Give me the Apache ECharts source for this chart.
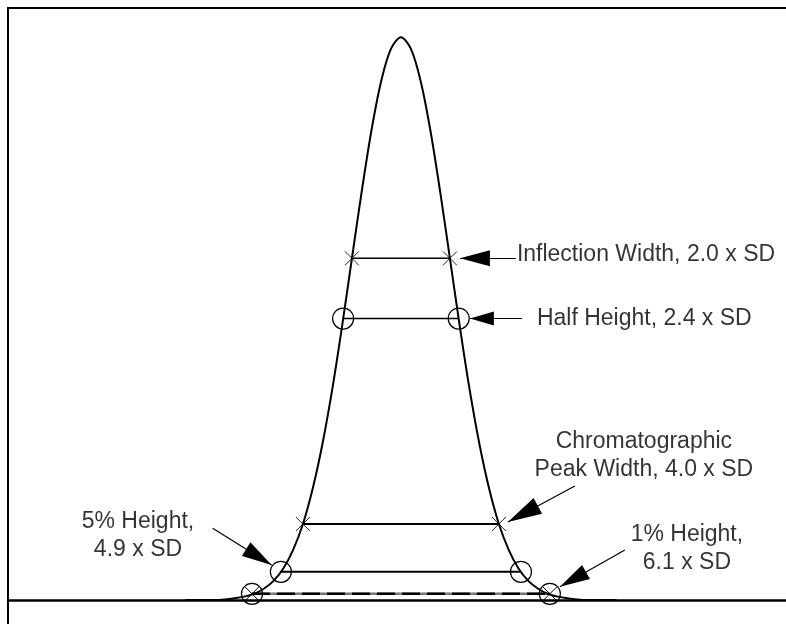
<!DOCTYPE html>
<html><head><meta charset="utf-8">
<script src="https://cdn.jsdelivr.net/npm/echarts@6/dist/echarts.min.js"></script>
<style>html,body{margin:0;padding:0;background:#fff}#c{width:786px;height:624px}</style>
</head><body><div id="c"></div>
<script>
// Peak profile (x in SD units, y as fraction of peak height)
const curveX = [-4.4,-4.2,-4.0,-3.8,-3.6,-3.4,-3.2,-3.0,-2.8,-2.6,-2.4,-2.2,-2.0,-1.8,-1.6,-1.4,-1.2,-1.0,-0.8,-0.6,-0.4,-0.2,0,
                0.2,0.4,0.6,0.8,1.0,1.2,1.4,1.6,1.8,2.0,2.2,2.4,2.6,2.8,3.0,3.2,3.4,3.6,3.8,4.0,4.2,4.4];
const curveY = [0.000,0.000,0.000,0.000,0.001,0.003,0.006,0.011,0.020,0.034,0.056,0.089,0.135,0.198,0.278,0.375,0.487,0.607,0.726,0.835,0.923,0.980,1.000,
                0.980,0.923,0.835,0.726,0.607,0.487,0.375,0.278,0.198,0.135,0.089,0.056,0.034,0.020,0.011,0.006,0.003,0.001,0.000,0.000,0.000,0.000];

// Width measurements: half-width (SD units) and level (fraction of height)
const widthNames = ['Inflection', 'Half Height', 'Chromatographic', '5% Height', '1% Height'];
const widthHalf  = [1.0, 1.18, 2.0, 2.45, 3.04];
const widthLevel = [0.607, 0.5, 0.135, 0.05, 0.011];
const widthMarker = ['x', 'circle', 'x', 'circle', 'crossCircle'];

// Label texts
const labelTexts = [
  'Inflection Width, 2.0 x SD',
  'Half Height, 2.4 x SD',
  'Chromatographic\nPeak Width, 4.0 x SD',
  '5% Height,\n4.9 x SD',
  '1% Height,\n6.1 x SD'
];

// Annotation placement (data units)
const labelAnchor = [[2.367, 0.6128], [2.776, 0.4991], [4.959, 0.2558], [-5.367, 0.1137], [5.837, 0.0915]];
const labelPos = ['right', 'right', 'inside', 'inside', 'inside'];
const arrowTail = [[2.347, 0.607], [2.469, 0.5], [3.551, 0.2025], [-3.843, 0.1274], [4.571, 0.0888]];
const arrowTip  = [[1.204, 0.607], [1.408, 0.5], [2.184, 0.1385], [-2.639, 0.0622], [3.245, 0.0236]];
const arrowHead = [[30, 8], [24, 7], [34, 9], [30, 8], [30, 8]];

const FONT = "'Liberation Sans', Arial, Helvetica, sans-serif";
const X_PATH = 'path://M0,0L10,10M10,0L0,10';
const headPath = (len, half) => `path://M${-len},${-len}M${len},${len}M0,0L${half},${len}L${-half},${len}Z`;

const series = [];
// curve
series.push({
  type: 'line', data: curveX.map((x, i) => [x, curveY[i]]), smooth: 0.3,
  showSymbol: false, lineStyle: { color: '#000', width: 2 }, z: 4, silent: true
});
// width lines with markers
const lineW = [1.5, 1.5, 2, 2, 2.5];
widthHalf.forEach((w, i) => {
  const lv = widthLevel[i];
  const pts = [[-w, lv], [w, lv]];
  const mk = widthMarker[i];
  const isX = mk === 'x';
  series.push({
    type: 'line', data: pts, silent: true, z: 3,
    symbol: isX ? X_PATH : 'circle', symbolSize: isX ? 14 : 21, showSymbol: true,
    itemStyle: { color: 'rgba(0,0,0,0)', borderColor: isX ? '#222' : '#000', borderWidth: isX ? 1 : 1.2 },
    lineStyle: { color: i === 4 ? '#777' : '#000', width: lineW[i] }
  });
  if (i === 4) {
    series.push({
      type: 'line', data: pts, silent: true, z: 3, showSymbol: false,
      lineStyle: { color: '#000', width: lineW[i], type: [18, 7] }
    });
  }
  if (mk === 'crossCircle') {
    series.push({
      type: 'scatter', data: pts, silent: true, z: 3, symbol: X_PATH, symbolSize: 15,
      itemStyle: { color: 'rgba(0,0,0,0)', borderColor: '#000', borderWidth: 1, opacity: 1 }
    });
  }
});
// arrows
arrowTail.forEach((t, i) => {
  const [len, half] = arrowHead[i];
  series.push({
    type: 'lines', coordinateSystem: 'cartesian2d', silent: true, z: 5,
    symbol: ['none', headPath(len, half)], symbolSize: 2 * len,
    lineStyle: { color: '#000', width: 1.2, opacity: 1, curveness: 0 },
    data: [{ coords: [t, arrowTip[i]] }]
  });
});
// labels
series.push({
  type: 'scatter', silent: true, z: 6, symbolSize: 0,
  itemStyle: { color: 'rgba(0,0,0,0)' },
  data: labelTexts.map((txt, i) => ({
    value: labelAnchor[i],
    label: {
      show: true, formatter: txt, position: labelPos[i], distance: 0,
      align: labelPos[i] === 'right' ? 'left' : 'center', verticalAlign: 'middle',
      fontSize: 23, lineHeight: 28, fontFamily: FONT, color: '#000'
    }
  }))
});

const chart = echarts.init(document.getElementById('c'), null, { renderer: 'canvas' });
chart.setOption({
  animation: false,
  backgroundColor: '#fff',
  grid: { left: 8, right: 0, top: 9, bottom: 24, containLabel: false },
  xAxis: {
    type: 'value', min: -8.02, max: 7.86,
    axisLine: { show: true, onZero: false, lineStyle: { color: '#000', width: 2.5 } },
    axisTick: { show: false }, axisLabel: { show: false }, splitLine: { show: false }
  },
  yAxis: { type: 'value', min: 0, max: 1.05, show: false },
  graphic: [{
    type: 'polyline', silent: true, z: 10,
    shape: { points: [[8, 624], [8, 8], [786, 8]] },
    style: { stroke: '#000', lineWidth: 2, fill: null }
  }],
  series: series
});
</script>
</body></html>
